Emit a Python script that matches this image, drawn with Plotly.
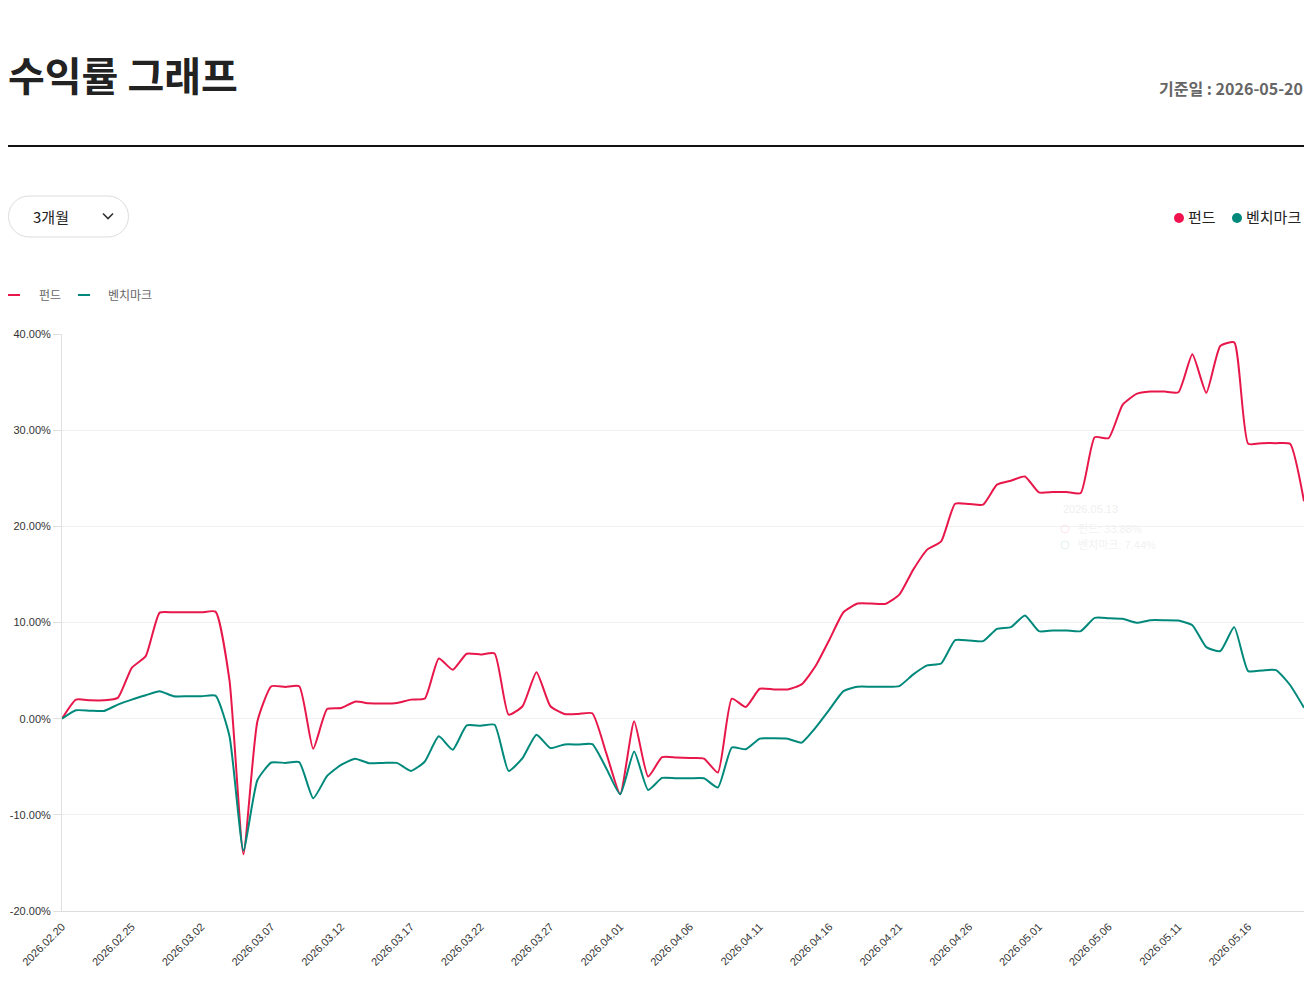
import plotly.graph_objects as go
import pandas as pd

# ---- data ----
dates = [d.strftime("%Y-%m-%d") for d in pd.date_range("2026-02-20", "2026-05-20", freq="D")]

fund = [0.00, 1.98, 1.91, 1.91, 2.16, 5.29, 6.50, 11.03, 11.06, 11.06,
        11.06, 11.13, 4.00, -14.09, -0.30, 3.37, 3.30, 3.37, -3.13, 1.00,
        1.11, 1.77, 1.60, 1.57, 1.63, 1.98, 2.09, 6.26, 5.08, 6.75,
        6.68, 6.78, 0.42, 1.29, 4.83, 1.29, 0.49, 0.49, 0.56, -3.58,
        -7.86, -0.28, -6.02, -4.00, -4.03, -4.10, -4.15, -5.60, 2.08, 1.21,
        3.11, 3.04, 3.04, 3.56, 5.47, 8.24, 11.07, 11.97, 11.97, 11.94,
        12.90, 15.50, 17.58, 18.44, 22.35, 22.32, 22.25, 24.33, 24.74, 25.19,
        23.53, 23.56, 23.56, 23.46, 29.27, 29.17, 32.63, 33.77, 34.01, 34.01,
        33.94, 37.89, 33.88, 38.75, 39.13, 28.58, 28.65, 28.65, 28.58, 22.60]

bench = [0.00, 0.87, 0.83, 0.80, 1.46, 1.98, 2.43, 2.85, 2.33, 2.33,
         2.33, 2.40, -1.80, -13.70, -6.40, -4.56, -4.60, -4.52, -8.28, -5.95,
         -4.80, -4.17, -4.63, -4.60, -4.60, -5.43, -4.45, -1.84, -3.23, -0.70,
         -0.73, -0.63, -5.43, -4.10, -1.67, -3.06, -2.68, -2.68, -2.64, -5.15,
         -7.86, -3.41, -7.41, -6.16, -6.19, -6.20, -6.20, -7.16, -3.00, -3.18,
         -2.08, -2.04, -2.08, -2.49, -0.93, 0.97, 2.87, 3.32, 3.32, 3.32,
         3.39, 4.60, 5.54, 5.74, 8.17, 8.13, 8.06, 9.34, 9.52, 10.73,
         9.10, 9.17, 9.17, 9.10, 10.48, 10.45, 10.38, 9.97, 10.24, 10.24,
         10.20, 9.72, 7.44, 7.02, 9.52, 4.95, 5.02, 5.05, 3.50, 1.14]

series_names = ["펀드", "벤치마크"]
y_tick_vals = [-20, -10, 0, 10, 20, 30, 40]
y_tick_text = ["-20.00%", "-10.00%", "0.00%", "10.00%", "20.00%", "30.00%", "40.00%"]
x_tick_vals = dates[::5]
x_tick_text = [d.replace("-", ".") for d in x_tick_vals]

title_text = "수익률 그래프"
base_date_text = "기준일 : 2026-05-20"
period_text = "3개월"
tooltip_date = "2026.05.13"

RED = "#e8174a"
TEAL = "#00897b"

# ---- layout geometry (pixels) ----
W, H = 1316, 984
L, R, T, B = 62, 1304, 334, 911


def px(x):
    return (x - L) / (R - L)


def py(y):
    return (B - y) / (B - T)


fig = go.Figure()
fig.add_trace(go.Scatter(x=dates, y=fund, name=series_names[0], mode="lines",
                         line=dict(color=RED, width=2, shape="spline", smoothing=0.5),
                         hoverinfo="skip"))
fig.add_trace(go.Scatter(x=dates, y=bench, name=series_names[1], mode="lines",
                         line=dict(color=TEAL, width=2, shape="spline", smoothing=0.5),
                         hoverinfo="skip"))

KR = "Noto Sans CJK KR"
ann = []
shapes = []

# title
ann.append(dict(x=px(6), y=py(74), xref="paper", yref="paper", xanchor="left", yanchor="middle",
                text="<b>" + title_text + "</b>", showarrow=False,
                font=dict(family=KR, size=40, color="#222222")))
ann.append(dict(x=px(1305), y=py(88), xref="paper", yref="paper", xanchor="right", yanchor="middle",
                text="<b>" + base_date_text + "</b>", showarrow=False,
                font=dict(family=KR, size=16, color="#666666")))
shapes.append(dict(type="line", xref="paper", yref="paper", x0=px(8), x1=px(1304), y0=py(146), y1=py(146),
                   line=dict(color="#111111", width=2)))

# dropdown pill
x0, x1, y0, y1, r = 8.5, 128.5, 196, 237, 20.5
k = 0.5523 * r
path = (f"M {px(x0+r)},{py(y0)} L {px(x1-r)},{py(y0)} "
        f"C {px(x1-r+k)},{py(y0)} {px(x1)},{py(y0+r-k)} {px(x1)},{py(y0+r)} "
        f"C {px(x1)},{py(y1-r+k)} {px(x1-r+k)},{py(y1)} {px(x1-r)},{py(y1)} "
        f"L {px(x0+r)},{py(y1)} "
        f"C {px(x0+r-k)},{py(y1)} {px(x0)},{py(y1-r+k)} {px(x0)},{py(y1-r)} "
        f"C {px(x0)},{py(y0+r-k)} {px(x0+r-k)},{py(y0)} {px(x0+r)},{py(y0)} Z")
shapes.append(dict(type="path", xref="paper", yref="paper", path=path,
                   line=dict(color="#dddddd", width=1), fillcolor="white"))
ann.append(dict(x=px(31), y=py(217), xref="paper", yref="paper", xanchor="left", yanchor="middle",
                text=period_text, showarrow=False, font=dict(family=KR, size=15, color="#222222")))
shapes.append(dict(type="path", xref="paper", yref="paper",
                   path=f"M {px(103)},{py(213.5)} L {px(108)},{py(218.5)} L {px(113)},{py(213.5)}",
                   line=dict(color="#333333", width=1.6)))

# top-right legend
for cx, col in [(1179, "#f0124e"), (1237, TEAL)]:
    shapes.append(dict(type="circle", xref="paper", yref="paper",
                       x0=px(cx - 5), x1=px(cx + 5), y0=py(223), y1=py(213),
                       fillcolor=col, line=dict(width=0)))
ann.append(dict(x=px(1186), y=py(217), xref="paper", yref="paper", xanchor="left", yanchor="middle",
                text=series_names[0], showarrow=False, font=dict(family=KR, size=15, color="#222222")))
ann.append(dict(x=px(1244), y=py(217), xref="paper", yref="paper", xanchor="left", yanchor="middle",
                text=series_names[1], showarrow=False, font=dict(family=KR, size=15, color="#222222")))

# small chart legend
for lx0, col in [(8, RED), (78, TEAL)]:
    shapes.append(dict(type="line", xref="paper", yref="paper", x0=px(lx0), x1=px(lx0 + 12),
                       y0=py(295), y1=py(295), line=dict(color=col, width=2)))
ann.append(dict(x=px(37), y=py(295), xref="paper", yref="paper", xanchor="left", yanchor="middle",
                text=series_names[0], showarrow=False, font=dict(family=KR, size=12, color="#666666")))
ann.append(dict(x=px(106), y=py(295), xref="paper", yref="paper", xanchor="left", yanchor="middle",
                text=series_names[1], showarrow=False, font=dict(family=KR, size=12, color="#666666")))

# faint fading tooltip
tip_font = "Liberation Sans, " + KR
ann.append(dict(x=px(1061), y=py(509), xref="paper", yref="paper", xanchor="left", yanchor="middle",
                text=tooltip_date, showarrow=False, font=dict(family=tip_font, size=11, color="#efefef")))
ann.append(dict(x=px(1076), y=py(529), xref="paper", yref="paper", xanchor="left", yanchor="middle",
                text=f"{series_names[0]}: {fund[82]:.2f}%", showarrow=False,
                font=dict(family=tip_font, size=11, color="#f2f2f2")))
ann.append(dict(x=px(1076), y=py(545), xref="paper", yref="paper", xanchor="left", yanchor="middle",
                text=f"{series_names[1]}: {bench[82]:.2f}%", showarrow=False,
                font=dict(family=tip_font, size=11, color="#f2f2f2")))
for cy, col in [(529, "#fbe6eb"), (545, "#e3f1ef")]:
    shapes.append(dict(type="circle", xref="paper", yref="paper",
                       x0=px(1061), x1=px(1069), y0=py(cy + 4), y1=py(cy - 4),
                       line=dict(color=col, width=1)))

fig.update_layout(
    width=W, height=H,
    margin=dict(l=L, r=W - R, t=T, b=H - B, pad=0, autoexpand=False),
    paper_bgcolor="white", plot_bgcolor="white",
    showlegend=False,
    annotations=ann, shapes=shapes,
    font=dict(family="Liberation Sans, " + KR, size=11, color="#333333"),
    xaxis=dict(type="date", range=[dates[0], dates[-1]], automargin=False,
               tickvals=x_tick_vals, ticktext=x_tick_text, tickangle=-45,
               showgrid=False, showline=True, linecolor="#dddddd", linewidth=1,
               ticks="", zeroline=False, ticklabelstandoff=4,
               tickfont=dict(family="Liberation Sans", size=11, color="#333333")),
    yaxis=dict(range=[-20, 40], tickvals=y_tick_vals, ticktext=y_tick_text, automargin=False,
               showgrid=True, gridcolor="#f0f0f0", gridwidth=1,
               showline=True, linecolor="#e0e0e0", linewidth=1,
               ticks="outside", ticklen=8, tickcolor="#e0e0e0",
               zeroline=False,
               tickfont=dict(family="Liberation Sans", size=11, color="#333333")),
)

fig.write_html("out.html")
